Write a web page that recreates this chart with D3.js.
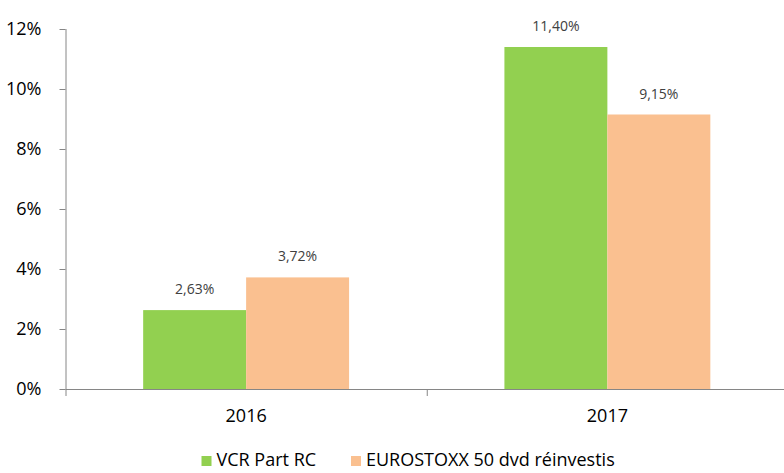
<!DOCTYPE html>
<html>
<head>
<meta charset="utf-8">
<script src="https://cdn.jsdelivr.net/npm/d3@7"></script>
<style>
  body { margin: 0; background: #fff; }
  text { font-family: "Open Sans", sans-serif; }
</style>
</head>
<body>
<div id="chart"></div>
<script>
const years = ["2016", "2017"];
const seriesNames = ["VCR Part RC", "EUROSTOXX 50 dvd réinvestis"];
const vcr = [2.63, 11.40];
const eurostoxx = [3.72, 9.15];
const yTicks = [0, 2, 4, 6, 8, 10, 12];
const colors = ["#92D050", "#FAC090"];

const width = 784, height = 473;
const margin = { top: 29, right: -4, bottom: 84, left: 65.5 }; // plot area box

const data = years.map((y, i) => ({ year: y, values: [vcr[i], eurostoxx[i]] }));

let svg = d3.select("#chart")
    .append("svg")
    .attr("width", width)
    .attr("height", height);

let x0 = d3.scaleBand() // one band per year
    .domain(years)
    .range([margin.left, width - margin.right]);

let x1 = d3.scaleBand() // bars inside a year
    .domain(seriesNames)
    .range([x0.bandwidth() * 0.215, x0.bandwidth() * 0.785]);

let y = d3.scaleLinear()
    .domain([0, 12])
    .range([height - margin.bottom, margin.top]);

// y axis
let yAxis = svg.append("g")
    .attr("transform", `translate(${margin.left},0)`)
    .call(d3.axisLeft(y).tickValues(yTicks).tickFormat(d => d + "%").tickSizeOuter(0).tickSize(6).tickPadding(18));
yAxis.select(".domain").attr("stroke", "#868686").attr("d", `M0.5,${y(12)}V${y(0) + 7}`);
yAxis.selectAll(".tick line").attr("stroke", "#868686");
yAxis.selectAll("text").attr("font-size", 18).attr("fill", "#000").attr("font-family", "Open Sans");

// bars
let group = svg.selectAll(".year")
    .data(data)
    .join("g")
    .attr("class", "year")
    .attr("transform", d => `translate(${x0(d.year)},0)`);

group.selectAll("rect")
    .data(d => d.values.map((v, i) => ({ name: seriesNames[i], v, i })))
    .join("rect")
    .attr("x", d => x1(d.name))
    .attr("width", x1.bandwidth())
    .attr("y", d => y(d.v))
    .attr("height", d => y(0) - y(d.v))
    .attr("fill", d => colors[d.i]);

group.selectAll("text.lbl")
    .data(d => d.values.map((v, i) => ({ name: seriesNames[i], v, i })))
    .join("text")
    .attr("class", "lbl")
    .attr("x", d => x1(d.name) + x1.bandwidth() / 2)
    .attr("y", d => y(d.v) - 16)
    .attr("text-anchor", "middle")
    .attr("font-family", "DejaVu Sans")
    .attr("font-size", 14)
    .attr("fill", "#404040")
    .text(d => d.v.toFixed(2).replace(".", ",") + "%");

// x axis
let xAxis = svg.append("g")
    .attr("transform", `translate(0,${y(0)})`)
    .call(d3.axisBottom(x0).tickSize(0).tickPadding(20));
xAxis.select(".domain").attr("stroke", "#868686").attr("d", `M${margin.left},0.5H${width}`);
xAxis.selectAll("text").attr("font-size", 18).attr("fill", "#000").attr("font-family", "Open Sans");

// category separators
xAxis.selectAll(".sep")
    .data(years.slice(1))
    .join("line")
    .attr("class", "sep")
    .attr("x1", d => x0(d) + 0.5)
    .attr("x2", d => x0(d) + 0.5)
    .attr("y1", 0)
    .attr("y2", 7)
    .attr("stroke", "#868686");

// legend
const legendX = [201.5, 351];
let legend = svg.selectAll(".legend")
    .data(seriesNames)
    .join("g")
    .attr("class", "legend")
    .attr("transform", (d, i) => `translate(${legendX[i]},456)`);

legend.append("rect")
    .attr("width", 10)
    .attr("height", 10)
    .attr("fill", (d, i) => colors[i]);

legend.append("text")
    .attr("x", 15)
    .attr("y", 10)
    .attr("font-size", 18)
    .attr("fill", "#000")
    .text(d => d);
</script>
</body>
</html>
